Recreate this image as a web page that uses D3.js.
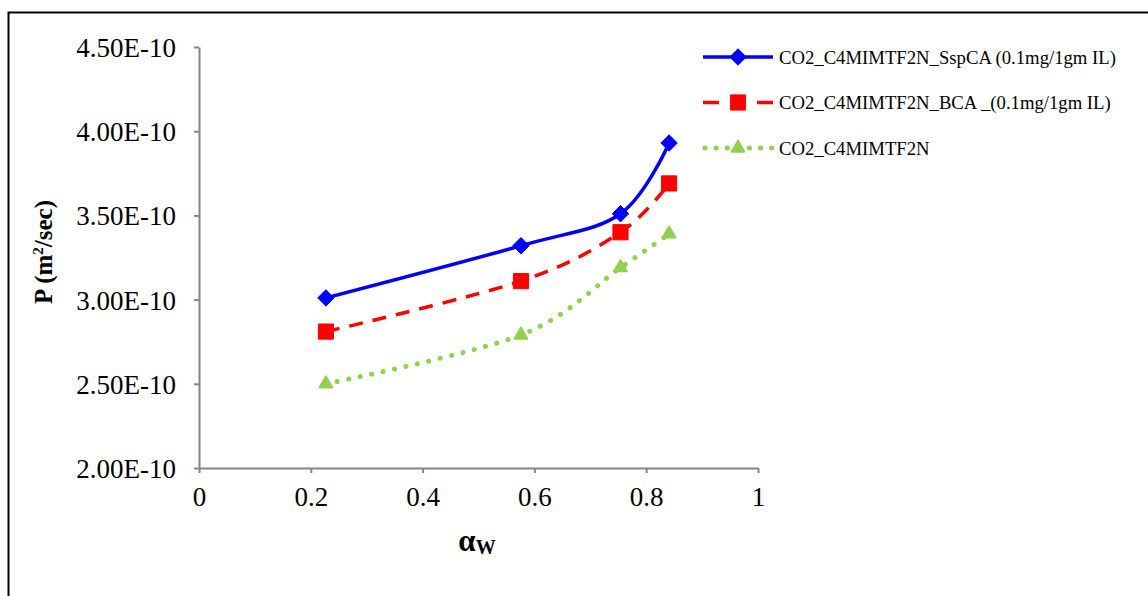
<!DOCTYPE html>
<html><head><meta charset="utf-8">
<script src="https://cdn.jsdelivr.net/npm/d3@7"></script>
<style>body{margin:0;background:#fff}svg{display:block}</style>
</head><body>
<svg id="c" width="1148" height="596"></svg>
<script>
const xValues = [0.227, 0.576, 0.754, 0.841];
const sspCA = [3.01e-10, 3.32e-10, 3.51e-10, 3.93e-10];
const bca = [2.81e-10, 3.11e-10, 3.40e-10, 3.69e-10];
const plain = [2.50e-10, 2.79e-10, 3.19e-10, 3.39e-10];
const seriesNames = ["CO2_C4MIMTF2N_SspCA (0.1mg/1gm IL)", "CO2_C4MIMTF2N_BCA _(0.1mg/1gm IL)", "CO2_C4MIMTF2N"];
const xTicks = [0, 0.2, 0.4, 0.6, 0.8, 1];
const yTicks = [2.0e-10, 2.5e-10, 3.0e-10, 3.5e-10, 4.0e-10, 4.5e-10];

const svg = d3.select("#c");
const font = "Liberation Serif, Times New Roman, serif";
svg.append("rect").attr("x", 8.5).attr("y", 12.5).attr("width", 1160).attr("height", 620)
  .attr("fill", "none").attr("stroke", "#000").attr("stroke-width", 2);

const x = d3.scaleLinear().domain([0, 1]).range([199, 758]);
const y = d3.scaleLinear().domain([2.0e-10, 4.5e-10]).range([468, 47]);

const gx = svg.append("g").attr("transform", "translate(0,468)")
  .call(d3.axisBottom(x).tickValues(xTicks).tickFormat(d3.format("")).tickSize(5).tickSizeOuter(0));
const gy = svg.append("g").attr("transform", "translate(199,0)")
  .call(d3.axisLeft(y).tickValues(yTicks).tickFormat(d => (d * 1e10).toFixed(2) + "E-10").tickSize(5).tickSizeOuter(0));
[gx, gy].forEach(g => {
  g.attr("font-family", font);
  g.select(".domain").attr("stroke", "#868686").attr("stroke-width", 2);
  g.selectAll(".tick line").attr("stroke", "#868686").attr("stroke-width", 2);
  g.selectAll("text").attr("font-family", font).attr("font-size", 27).attr("fill", "#000");
});
gx.selectAll("text").attr("dy", "1.1em");
gy.selectAll("text").attr("x", -23).attr("dy", "0.35em");

// axis titles
svg.append("text").attr("transform", "translate(52,252) rotate(-90)").attr("text-anchor", "middle")
  .attr("font-family", font).attr("font-size", 25).attr("font-weight", "bold")
  .html('P (m<tspan dy="-9" font-size="15">2</tspan><tspan dy="9">/sec)</tspan>');
svg.append("text").attr("x", 477).attr("y", 551).attr("text-anchor", "middle")
  .attr("font-family", font).attr("font-size", 31).attr("font-weight", "bold")
  .html('α<tspan font-size="20" dy="3">W</tspan>');

const line = d3.line().x((d, i) => x(xValues[i])).y(d => y(d)).curve(d3.curveCatmullRom.alpha(0));

const styles = [
  {data: sspCA, color: "#0000FF", dash: null, cap: "butt", msize: 120},
  {data: bca, color: "#FF0000", dash: "14,10", cap: "butt", msize: 230},
  {data: plain, color: "#92D050", dash: "0.1,11.6", cap: "round", msize: 70}
];
const diamond = s => { const r = Math.sqrt(s) * 0.75; return `M0,${-r}L${r},0L0,${r}L${-r},0Z`; };
const symbols = [diamond(styles[0].msize), d3.symbol(d3.symbolSquare, styles[1].msize)(), d3.symbol(d3.symbolTriangle, styles[2].msize)()];

styles.forEach((s, k) => {
  svg.append("path").attr("d", line(s.data)).attr("fill", "none").attr("stroke", s.color)
    .attr("stroke-width", s.cap === "round" ? 5 : 3.5).attr("stroke-dasharray", s.dash).attr("stroke-linecap", s.cap);
  const sym = symbols[k];
  svg.append("g").selectAll("path").data(s.data).join("path")
    .attr("transform", (d, i) => `translate(${x(xValues[i])},${y(d)})`)
    .attr("d", sym).attr("fill", s.color).attr("stroke", s.color).attr("stroke-width", k === 2 ? 2 : 1)
    .attr("stroke-linejoin", "round");
  // legend
  const ly = 57 + k * 45.5;
  if (k === 1) {
    [[703, 719], [757, 773]].forEach(([a, b]) => svg.append("line").attr("x1", a).attr("x2", b)
      .attr("y1", ly).attr("y2", ly).attr("stroke", s.color).attr("stroke-width", 3.5));
  } else {
    svg.append("line").attr("x1", k === 2 ? 705 : 703).attr("x2", 773).attr("y1", ly).attr("y2", ly)
      .attr("stroke", s.color).attr("stroke-width", k === 2 ? 5 : 3.5)
      .attr("stroke-dasharray", k === 2 ? "0.1,11" : null).attr("stroke-linecap", s.cap);
  }
  svg.append("path").attr("transform", `translate(738,${ly})`).attr("d", sym)
    .attr("fill", s.color).attr("stroke", s.color).attr("stroke-width", k === 2 ? 2 : 1).attr("stroke-linejoin", "round");
  svg.append("text").attr("x", 779).attr("y", ly).attr("dy", "0.35em")
    .attr("font-family", font).attr("font-size", 18.7).text(seriesNames[k]);
});
</script>
</body></html>
